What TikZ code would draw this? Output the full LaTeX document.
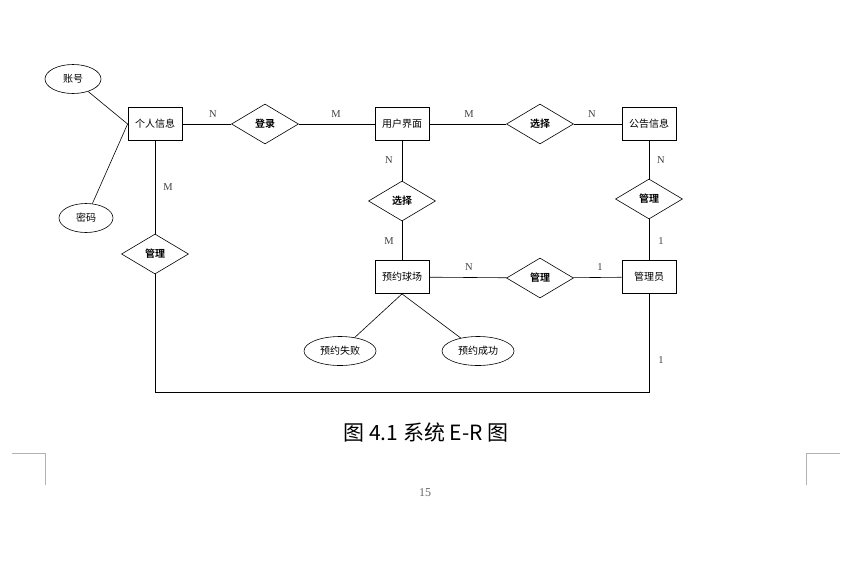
\documentclass[tikz,border=0pt]{standalone}
\usepackage{fontspec}
\setmainfont{Liberation Serif}
\newfontfamily\cjk{Noto Sans CJK SC}[BoldFont={Noto Sans CJK SC Bold}]
\usetikzlibrary{shapes.geometric,positioning}

\begin{document}
\begin{tikzpicture}[
  x=1pt,y=-1pt,
  every node/.style={font=\fontsize{10}{12}\selectfont\cjk},
  entity/.style={draw,thick,minimum width=54pt,minimum height=33pt,inner sep=1pt},
  rel/.style={draw,semithick,diamond,aspect=1.65,minimum width=67pt,minimum height=40pt,inner sep=0pt,
    font=\fontsize{10}{12}\selectfont\cjk\bfseries},
  attrib/.style={draw,semithick,ellipse,minimum height=29pt,inner sep=1pt},
  card/.style={font=\fontsize{10.5}{12}\selectfont\rmfamily,text=black!75},
  link/.style={semithick}
]
  \useasboundingbox (0,0) rectangle (851,576);

  % entities
  \node[entity] (person) at (155,124) {个人信息};
  \node[entity] (ui) at (402,124) {用户界面};
  \node[entity] (notice) at (649,124) {公告信息};
  \node[entity] (book) at (402,277) {预约球场};
  \node[entity] (admin) at (649,277) {管理员};

  % relationships
  \node[rel] (login) at (265,124) {登录};
  \node[rel] (choose1) at (540,124) {选择};
  \node[rel] (choose2) at (402,201) {选择};
  \node[rel] (manage1) at (649,199) {管理};
  \node[rel] (manage2) at (155,254) {管理};
  \node[rel] (manage3) at (540,278) {管理};

  % attributes
  \node[attrib,minimum width=56pt] (account) at (73,79) {账号};
  \node[attrib,minimum width=54pt] (pwd) at (86,218) {密码};
  \node[attrib,minimum width=72pt] (fail) at (340,351) {预约失败};
  \node[attrib,minimum width=72pt] (ok) at (478,351) {预约成功};

  \draw[link] (account) -- (person.west);
  \draw[link] (pwd) -- (person.west);
  \draw[link] (person) -- (login) -- (ui) -- (choose1) -- (notice);
  \draw[link] (ui) -- (choose2) -- (book);
  \draw[link] (notice) -- (manage1) -- (admin);
  \draw[link] (book) -- (manage3) -- (admin);
  \draw[link] (person) -- (manage2);
  \draw[link] (book.south) -- (fail);
  \draw[link] (book.south) -- (ok);
  \draw[link] (manage2.south) |- (155,392) -| (admin.south);

  % cardinalities
  \node[card] at (213,114) {N};
  \node[card] at (336,114) {M};
  \node[card] at (469,114) {M};
  \node[card] at (592,114) {N};
  \node[card] at (389,160) {N};
  \node[card] at (389,241) {M};
  \node[card] at (661,160) {N};
  \node[card] at (661,241) {1};
  \node[card] at (469,267) {N};
  \node[card] at (600,267) {1};
  \node[card] at (168,187) {M};
  \node[card] at (661,360) {1};

  % caption and page
  \node[font=\fontsize{21}{24}\selectfont\cjk] (caption) at (426,432) {图 4.1 系统 E-R 图};
  \node[font=\fontsize{12}{14}\selectfont\rmfamily,text=black!60] (page) at (425,493) {15};
  \draw[black!30] (12,453) -- (45,453) -- (45,485);
  \draw[black!30] (840,453) -- (806,453) -- (806,485);
\end{tikzpicture}
\end{document}
